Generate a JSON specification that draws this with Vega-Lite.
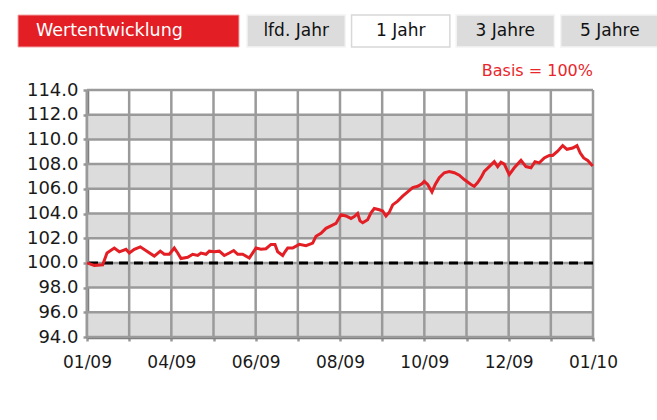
{
  "$schema": "https://vega.github.io/schema/vega-lite/v6.json",
  "background": "white",
  "padding": {"left": 17, "top": 14, "right": 0, "bottom": 0},
  "config": {
    "view": {"stroke": null},
    "font": "DejaVu Sans",
    "axis": {"labelFont": "DejaVu Sans", "titleFont": "DejaVu Sans", "grid": false, "zindex": 1, "labelColor": "#1a1a1a", "labelOverlap": false, "labelFlush": false, "domainColor": "#777777", "domainWidth": 3.5, "tickColor": "#9a9a9a", "tickWidth": 2.5, "tickSize": 4},
    "axisX": {"labelFontSize": 17, "labelPadding": 13},
    "axisY": {"labelFontSize": 18, "labelPadding": 5}
  },
  "spacing": 15,
  "vconcat": [
    {
      "hconcat": [
        {
          "width": 221,
          "height": 32,
          "data": {"values": [{"label": "Wertentwicklung"}]},
          "layer": [
            {
              "mark": {"type": "rect", "fill": "#e31e24", "stroke": "#f2a5a7", "strokeWidth": 1},
              "encoding": {}
            },
            {
              "mark": {"type": "text", "align": "left", "baseline": "middle", "fontSize": 17.5, "color": "white", "dx": 18},
              "encoding": {
                "x": {"datum": 0, "type": "quantitative", "scale": {"domain": [0, 1]}, "axis": null},
                "text": {"field": "label"}
              }
            }
          ]
        },
        {
          "width": 412,
          "height": 32,
          "data": {"values": [
            {"tab": "lfd. Jahr", "active": "no"},
            {"tab": "1 Jahr", "active": "yes"},
            {"tab": "3 Jahre", "active": "no"},
            {"tab": "5 Jahre", "active": "no"}
          ]},
          "encoding": {
            "x": {"field": "tab", "type": "nominal", "sort": null, "scale": {"paddingInner": 0.06, "paddingOuter": 0}, "axis": null}
          },
          "layer": [
            {
              "mark": {"type": "bar", "strokeWidth": 1.5},
              "encoding": {
                "fill": {"field": "active", "type": "nominal", "scale": {"domain": ["no", "yes"], "range": ["#dcdcdc", "#ffffff"]}, "legend": null},
                "stroke": {"field": "active", "type": "nominal", "scale": {"domain": ["no", "yes"], "range": ["#f4f4f4", "#d8d8d8"]}, "legend": null}
              }
            },
            {
              "mark": {"type": "text", "baseline": "middle", "fontSize": 17, "color": "#111"},
              "encoding": {"text": {"field": "tab"}}
            }
          ]
        }
      ],
      "spacing": 8,
      "bounds": "flush"
    },
    {
      "bounds": "flush",
      "spacing": 0,
      "hconcat": [
        {
          "width": 69,
          "height": 247,
          "data": {"values": []},
          "mark": {"type": "text"},
          "encoding": {}
        },
        {
          "width": 506,
          "height": 247,
          "title": {"text": "Basis = 100%", "anchor": "end", "frame": "group", "color": "#e8262b", "fontSize": 16, "fontWeight": "normal", "font": "DejaVu Sans", "offset": 2},
          "layer": [
            {
              "data": {"values": [
                {"v": 94, "v2": 96}, {"v": 98, "v2": 100}, {"v": 102, "v2": 104}, {"v": 106, "v2": 108}, {"v": 110, "v2": 112}
              ]},
              "mark": {"type": "rect", "fill": "#dcdcdc"},
              "encoding": {
                "y": {"field": "v", "type": "quantitative", "scale": {"domain": [94, 114], "nice": false, "zero": false},
                  "axis": {"title": null, "values": [94, 96, 98, 100, 102, 104, 106, 108, 110, 112, 114], "format": ".1f"}},
                "y2": {"field": "v2"}
              }
            },
            {
              "data": {"values": [
                {"t": 0}, {"t": 1}, {"t": 2}, {"t": 3}, {"t": 4}, {"t": 5}, {"t": 6}, {"t": 7}, {"t": 8}, {"t": 9}, {"t": 10}, {"t": 11}, {"t": 12}
              ]},
              "mark": {"type": "rule", "color": "#9a9a9a", "strokeWidth": 2.5},
              "encoding": {
                "x": {"field": "t", "type": "quantitative", "scale": {"domain": [0, 12], "nice": false, "zero": false},
                  "axis": {"title": null, "values": [0, 1, 2, 3, 4, 5, 6, 7, 8, 9, 10, 11, 12],
                    "labelExpr": "['01/09','','04/09','','06/09','','08/09','','10/09','','12/09','','01/10'][datum.value]"}}
              }
            },
            {
              "data": {"values": [
                {"v": 94}, {"v": 96}, {"v": 98}, {"v": 100}, {"v": 102}, {"v": 104}, {"v": 106}, {"v": 108}, {"v": 110}, {"v": 112}, {"v": 114}
              ]},
              "mark": {"type": "rule", "color": "#9a9a9a", "strokeWidth": 2.5},
              "encoding": {
                "y": {"field": "v", "type": "quantitative", "scale": {"domain": [94, 114], "nice": false, "zero": false},
                  "axis": {"title": null, "values": [94, 96, 98, 100, 102, 104, 106, 108, 110, 112, 114], "format": ".1f"}}
              }
            },
            {
              "data": {"values": [{"v": 100}]},
              "mark": {"type": "rule", "color": "black", "strokeWidth": 3, "strokeDash": [9, 6]},
              "encoding": {
                "y": {"field": "v", "type": "quantitative", "scale": {"domain": [94, 114], "nice": false, "zero": false},
                  "axis": {"title": null, "values": [94, 96, 98, 100, 102, 104, 106, 108, 110, 112, 114], "format": ".1f"}}
              }
            },
            {
              "data": {"values": [
                {"t": 0.000, "v": 100.0}, {"t": 0.173, "v": 99.8}, {"t": 0.372, "v": 99.85}, {"t": 0.474, "v": 100.8},
                {"t": 0.647, "v": 101.2}, {"t": 0.766, "v": 100.9}, {"t": 0.925, "v": 101.1}, {"t": 1.003, "v": 100.8},
                {"t": 1.122, "v": 101.1}, {"t": 1.264, "v": 101.3}, {"t": 1.439, "v": 100.9}, {"t": 1.596, "v": 100.55},
                {"t": 1.738, "v": 100.95}, {"t": 1.833, "v": 100.7}, {"t": 1.952, "v": 100.7}, {"t": 2.070, "v": 101.2},
                {"t": 2.151, "v": 100.8}, {"t": 2.229, "v": 100.35}, {"t": 2.388, "v": 100.45}, {"t": 2.507, "v": 100.7},
                {"t": 2.625, "v": 100.6}, {"t": 2.703, "v": 100.8}, {"t": 2.822, "v": 100.7}, {"t": 2.900, "v": 100.95},
                {"t": 3.019, "v": 100.9}, {"t": 3.137, "v": 100.95}, {"t": 3.256, "v": 100.6}, {"t": 3.374, "v": 100.8},
                {"t": 3.479, "v": 101.0}, {"t": 3.574, "v": 100.7}, {"t": 3.692, "v": 100.7}, {"t": 3.849, "v": 100.4},
                {"t": 4.008, "v": 101.2}, {"t": 4.126, "v": 101.1}, {"t": 4.245, "v": 101.15}, {"t": 4.363, "v": 101.5},
                {"t": 4.458, "v": 101.5}, {"t": 4.522, "v": 100.9}, {"t": 4.641, "v": 100.6}, {"t": 4.695, "v": 100.9},
                {"t": 4.759, "v": 101.2}, {"t": 4.878, "v": 101.2}, {"t": 5.034, "v": 101.5}, {"t": 5.193, "v": 101.4},
                {"t": 5.352, "v": 101.6}, {"t": 5.430, "v": 102.15}, {"t": 5.549, "v": 102.4}, {"t": 5.667, "v": 102.8},
                {"t": 5.786, "v": 103.0}, {"t": 5.905, "v": 103.2}, {"t": 6.023, "v": 103.9}, {"t": 6.142, "v": 103.8},
                {"t": 6.260, "v": 103.6}, {"t": 6.339, "v": 103.75}, {"t": 6.419, "v": 104.0}, {"t": 6.474, "v": 103.4},
                {"t": 6.538, "v": 103.25}, {"t": 6.656, "v": 103.5}, {"t": 6.735, "v": 104.05}, {"t": 6.813, "v": 104.4},
                {"t": 6.932, "v": 104.3}, {"t": 7.012, "v": 104.2}, {"t": 7.090, "v": 103.8}, {"t": 7.169, "v": 104.1},
                {"t": 7.249, "v": 104.7}, {"t": 7.368, "v": 105.0}, {"t": 7.486, "v": 105.4}, {"t": 7.605, "v": 105.75},
                {"t": 7.724, "v": 106.1}, {"t": 7.842, "v": 106.2}, {"t": 7.944, "v": 106.4}, {"t": 7.999, "v": 106.6},
                {"t": 8.079, "v": 106.35}, {"t": 8.181, "v": 105.75}, {"t": 8.259, "v": 106.35}, {"t": 8.354, "v": 106.9},
                {"t": 8.473, "v": 107.3}, {"t": 8.591, "v": 107.4}, {"t": 8.710, "v": 107.3}, {"t": 8.829, "v": 107.1},
                {"t": 8.947, "v": 106.75}, {"t": 9.106, "v": 106.35}, {"t": 9.184, "v": 106.2}, {"t": 9.265, "v": 106.5},
                {"t": 9.343, "v": 106.9}, {"t": 9.421, "v": 107.4}, {"t": 9.540, "v": 107.8}, {"t": 9.659, "v": 108.2},
                {"t": 9.739, "v": 107.8}, {"t": 9.817, "v": 108.15}, {"t": 9.896, "v": 108.0}, {"t": 10.014, "v": 107.15},
                {"t": 10.133, "v": 107.7}, {"t": 10.292, "v": 108.3}, {"t": 10.410, "v": 107.8}, {"t": 10.529, "v": 107.7},
                {"t": 10.624, "v": 108.2}, {"t": 10.726, "v": 108.1}, {"t": 10.844, "v": 108.5}, {"t": 10.963, "v": 108.7},
                {"t": 11.043, "v": 108.7}, {"t": 11.162, "v": 109.05}, {"t": 11.281, "v": 109.5}, {"t": 11.383, "v": 109.2},
                {"t": 11.518, "v": 109.3}, {"t": 11.620, "v": 109.5}, {"t": 11.698, "v": 108.9}, {"t": 11.779, "v": 108.5},
                {"t": 11.874, "v": 108.3}, {"t": 11.993, "v": 107.85}
              ]},
              "mark": {"type": "line", "color": "#e31e24", "strokeWidth": 3, "interpolate": "linear"},
              "encoding": {
                "x": {"field": "t", "type": "quantitative", "scale": {"domain": [0, 12], "nice": false, "zero": false},
                  "axis": {"title": null, "values": [0, 1, 2, 3, 4, 5, 6, 7, 8, 9, 10, 11, 12],
                    "labelExpr": "['01/09','','04/09','','06/09','','08/09','','10/09','','12/09','','01/10'][datum.value]"}},
                "y": {"field": "v", "type": "quantitative", "scale": {"domain": [94, 114], "nice": false, "zero": false},
                  "axis": {"title": null, "values": [94, 96, 98, 100, 102, 104, 106, 108, 110, 112, 114], "format": ".1f"}}
              }
            }
          ]
        }
      ]
    }
  ]
}
